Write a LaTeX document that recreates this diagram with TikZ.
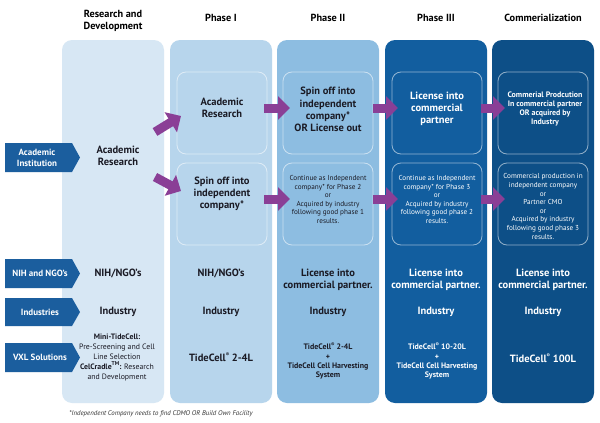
\documentclass[tikz,border=0pt]{standalone}
\usepackage{fontspec}
\setmainfont{PT Sans}
\usetikzlibrary{arrows.meta}
\definecolor{cRD}{HTML}{D7E7F4}
\definecolor{cP1}{HTML}{B7D5EC}
\definecolor{cP2}{HTML}{8DBDE1}
\definecolor{cP3}{HTML}{125E9F}
\definecolor{cCM}{HTML}{0D4F87}
\definecolor{cLab}{HTML}{1B5E9E}
\definecolor{cArr}{HTML}{8A3F96}
\definecolor{cTxt}{HTML}{1A1A24}
\definecolor{cFoot}{HTML}{333333}
\newcommand{\regmk}{\raisebox{0.45em}{\fontsize{5}{5}\selectfont ®}}
\newcommand{\tmmk}{\raisebox{0.4em}{\fontsize{5.5}{5.5}\selectfont TM}}
\begin{document}
\begin{tikzpicture}[x=1pt,y=-1pt,
  col/.style={rounded corners=10pt, inner sep=0pt, minimum width=102pt, minimum height=363pt},
  ibox/.style={draw=white, draw opacity=0.55, line width=0.8pt, rounded corners=9pt, minimum width=90pt, minimum height=82pt, inner sep=0pt},
  big/.style={font=\bfseries\fontsize{10.5}{12.3}\selectfont, align=center, inner sep=0pt, text=cTxt},
  hdr/.style={font=\bfseries\fontsize{10.3}{12}\selectfont, align=center, inner sep=0pt, text=black},
  sml/.style={font=\fontsize{7.2}{8.6}\selectfont, align=center, inner sep=0pt, text=cTxt},
  smb/.style={font=\bfseries\fontsize{7.9}{9.3}\selectfont, align=center, inner sep=0pt, text=cTxt},
  lab/.style={fill=cLab},
  labtext/.style={font=\bfseries\fontsize{9}{11}\selectfont, align=center, inner sep=0pt, text=white},
  wt/.style={text=white},
  parrow/.style={draw=cArr, line width=9pt, -{Triangle[width=23pt,length=12pt]}}
]
\useasboundingbox (0,0) rectangle (600,423);
\fill[white] (0,0) rectangle (600,423);

% headers
\node[hdr] (h0) at (113,21) {Research and\\Development};
\node[hdr] (h1) at (221,17.5) {Phase I};
\node[hdr] (h2) at (328,17.5) {Phase II};
\node[hdr] (h3) at (436,17.5) {Phase III};
\node[hdr] (h4) at (543,17.5) {Commerialization};

% columns
\node[col, fill=cRD] (c0) at (113,221.5) {};
\node[col, fill=cP1] (c1) at (221,221.5) {};
\node[col, fill=cP2] (c2) at (328,221.5) {};
\node[col, fill=cP3] (c3) at (436,221.5) {};
\node[col, fill=cCM] (c4) at (543,221.5) {};

% inner boxes
\node[ibox] (b1t) at (222,113) {};
\node[ibox] (b1b) at (222,204) {};
\node[ibox] (b2t) at (328,113) {};
\node[ibox] (b2b) at (328,204) {};
\node[ibox] (b3t) at (437,113) {};
\node[ibox] (b3b) at (437,204) {};
\node[ibox] (b4t) at (543,113) {};
\node[ibox] (b4b) at (543,204) {};

% left labels
\fill[lab] (5,143) -- (72,143) -- (80,157.5) -- (72,172) -- (5,172) -- cycle;
\node[labtext] (lai) at (37,157.5) {Academic\\Institution};
\fill[lab] (5,259) -- (72,259) -- (80,273.5) -- (72,288) -- (5,288) -- cycle;
\node[labtext] (lnih) at (40,273.5) {NIH and NGO’s};
\fill[lab] (5,298) -- (72,298) -- (80,312) -- (72,326) -- (5,326) -- cycle;
\node[labtext] (lind) at (40,312) {Industries};
\fill[lab] (5,343) -- (72,343) -- (80,357.5) -- (72,372) -- (5,372) -- cycle;
\node[labtext] (lvxl) at (40,357.5) {VXL Solutions};

% R&D column texts
\node[big] (t0a) at (118,156) {Academic\\Research};
\node[big] (t0n) at (118,273) {NIH/NGO’s};
\node[big] (t0i) at (118,312) {Industry};
\node[inner sep=0pt, align=center, text=cTxt, font=\fontsize{7.8}{10}\selectfont] (t0v) at (117,357)
  {\textbf{Mini-TideCell:}\\Pre-Screening and Cell\\Line Selection\\\textbf{CelCradle\tmmk:} Research\\and Development};

% Phase I texts
\node[big] (t1a) at (222,108) {Academic\\Research};
\node[big] (t1b) at (222,194) {Spin off into\\independent\\company*};
\node[big] (t1n) at (221,273) {NIH/NGO’s};
\node[big] (t1i) at (221,312) {Industry};
\node[big] (t1v) at (221,357) {TideCell\regmk{} 2-4L};

% Phase II texts
\node[big] (t2a) at (328,109.5) {Spin off into\\independent\\company*\\OR License out};
\node[sml] (t2b) at (328,199.5) {Continue as Independent\\company* for Phase 2\\or\\Acquired by industry\\following good phase 1\\results.};
\node[big] (t2n) at (328,279.5) {License into\\commercial partner.};
\node[big] (t2i) at (328,312) {Industry};
\node[smb] (t2v) at (328,361) {TideCell\regmk{} 2-4L\\+\\TideCell Cell Harvesting\\System};

% Phase III texts
\node[big, wt] (t3a) at (437,109) {License into\\commercial\\partner};
\node[sml, wt] (t3b) at (437,199.5) {Continue as Independent\\company* for Phase 3\\or\\Acquired by industry\\following good phase 2\\results.};
\node[big, wt] (t3n) at (436,279.5) {License into\\commercial partner.};
\node[big, wt] (t3i) at (436,312) {Industry};
\node[smb, wt] (t3v) at (437,361) {TideCell\regmk{} 10-20L\\+\\TideCell Cell Harvesting\\System};

% Commercialization texts
\node[smb, wt] (t4a) at (545,109) {Commerial Prodcution\\In commercial partner\\OR acquired by\\Industry};
\node[sml, wt] (t4b) at (543,206.5) {Commercial production in\\independent company\\or\\Partner CMO\\or\\Acquired by industry\\following good phase 3\\results.};
\node[big, wt] (t4n) at (543,279.5) {License into\\commercial partner.};
\node[big, wt] (t4i) at (543,312) {Industry};
\node[big, wt] (t4v) at (543,358) {TideCell\regmk{} 100L};

% arrows
\coordinate (a1s) at (155,132); \coordinate (a1e) at (181,116);
\coordinate (a2s) at (155,177); \coordinate (a2e) at (181,191);
\coordinate (h1s) at (264,108); \coordinate (h1e) at (290,108);
\coordinate (h2s) at (373,108); \coordinate (h2e) at (398,108);
\coordinate (h3s) at (481,108); \coordinate (h3e) at (505,108);
\coordinate (g1s) at (264,199); \coordinate (g1e) at (290,199);
\coordinate (g2s) at (373,199); \coordinate (g2e) at (398,199);
\coordinate (g3s) at (481,199); \coordinate (g3e) at (505,199);
\draw[parrow] (a1s) -- (a1e);
\draw[parrow] (a2s) -- (a2e);
\draw[parrow] (h1s) -- (h1e);
\draw[parrow] (h2s) -- (h2e);
\draw[parrow] (h3s) -- (h3e);
\draw[parrow] (g1s) -- (g1e);
\draw[parrow] (g2s) -- (g2e);
\draw[parrow] (g3s) -- (g3e);

% footnote
\node[inner sep=0pt, text=cFoot, font=\itshape\fontsize{6.8}{8}\selectfont] (fn) at (161,414) {*Independent Company needs to find CDMO OR Build Own Facility};
\end{tikzpicture}
\end{document}
